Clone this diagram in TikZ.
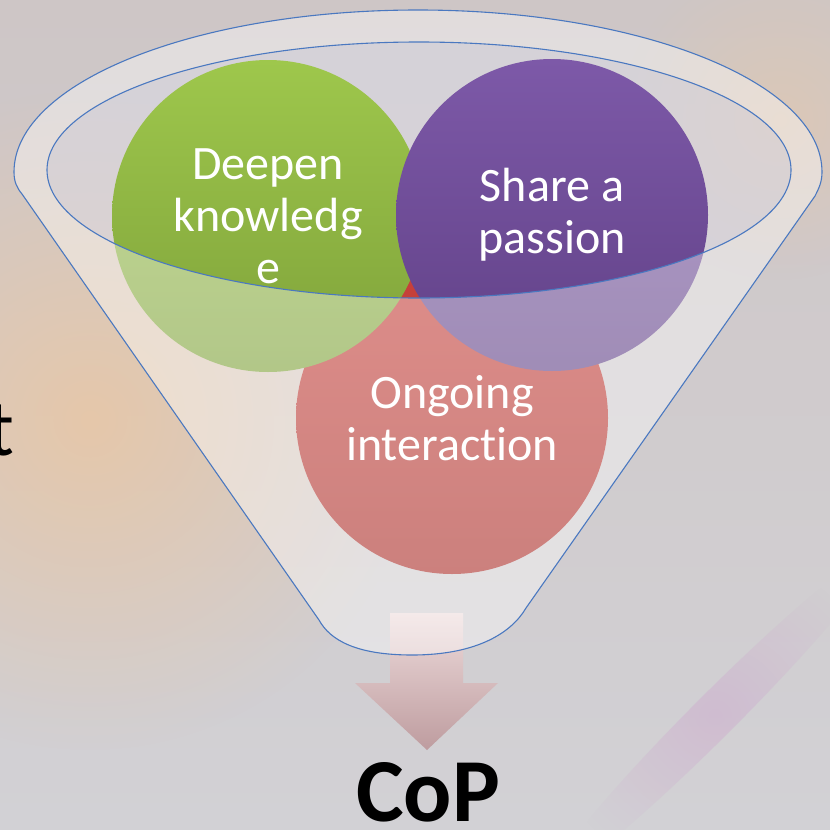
\documentclass[tikz,border=0pt]{standalone}
\usepackage{fontspec}
\setmainfont{Carlito}[Ligatures=NoCommon]
\usetikzlibrary{fadings}
\tikzfading[name=glowfade, inner color=transparent!0, outer color=transparent!100]
\definecolor{bgtop}{HTML}{CEC6C6}
\definecolor{bgbot}{HTML}{D2D1D5}
\definecolor{warm}{HTML}{E8C7A6}
\definecolor{rimblue}{HTML}{4A78C0}
\definecolor{inside}{HTML}{DCDCE6}
\definecolor{gtop}{HTML}{9EC74C}
\definecolor{gbot}{HTML}{7FA23A}
\definecolor{ptop}{HTML}{7D59A8}
\definecolor{pbot}{HTML}{614187}
\definecolor{rtop}{HTML}{C8423C}
\definecolor{rbot}{HTML}{AA2C27}
\definecolor{atop}{HTML}{EEDCDC}
\definecolor{abot}{HTML}{BE9C9F}
\tikzset{
  bubble/.style={circle, inner sep=0pt, minimum size=312pt, align=center,
    text=white, font=\fontsize{48}{52}\selectfont},
  rimline/.style={draw=rimblue, line width=1.1pt},
}
\begin{document}
\begin{tikzpicture}[x=1pt,y=-1pt]
\useasboundingbox (0,0) rectangle (830,830);
\clip (0,0) rectangle (830,830);
% background
\shade[top color=bgtop, bottom color=bgbot] (0,0) rectangle (830,830);
\fill[warm, path fading=glowfade, opacity=0.9] (90,420) circle (330pt);
\fill[warm, path fading=glowfade, opacity=0.5] (780,120) circle (160pt);
\fill[violet!40, path fading=glowfade, opacity=0.35, rotate around={-45:(715,715)}] (715,715) ellipse [x radius=22pt, y radius=230pt];
% funnel inside
\fill[inside, opacity=0.55] (419,170) ellipse [x radius=372pt, y radius=128pt];
% arrow
\shade[top color=atop, bottom color=abot]
  (390,613) -- (463,613) -- (463,683) -- (498,683) -- (427,750) -- (355,683) -- (390,683) -- cycle;
% circles
\node[bubble, top color=rtop, bottom color=rbot] (interact) at (452,418) {Ongoing\\interaction};
\node[bubble, top color=gtop, bottom color=gbot] (deepen) at (268,216) {Deepen\\knowledg\\e};
\node[bubble, top color=ptop, bottom color=pbot] (passion) at (552,215) {Share a\\passion};
% funnel body (translucent), hole at the opening
\fill[white, opacity=0.4, even odd rule]
  (14,172) arc[start angle=180, end angle=0, x radius=404pt, y radius=162pt]
  .. controls (822,182) and (819,188) .. (815,196)
  -- (526,608) .. controls (512,632) and (478,655) .. (412,655)
  .. controls (356,655) and (330,640) .. (319,620)
  -- (22,194) .. controls (17,188) and (14,182) .. (14,172) -- cycle
  (419,170) ellipse [x radius=372pt, y radius=128pt];
% outlines
\draw[rimline]
  (14,172) arc[start angle=180, end angle=0, x radius=404pt, y radius=162pt]
  .. controls (822,182) and (819,188) .. (815,196)
  -- (526,608) .. controls (512,632) and (478,655) .. (412,655)
  .. controls (356,655) and (330,640) .. (319,620)
  -- (22,194) .. controls (17,188) and (14,182) .. (14,172) -- cycle;
\draw[rimline] (419,170) ellipse [x radius=372pt, y radius=128pt];
% texts
\node[anchor=base, font=\bfseries\fontsize{90}{90}\selectfont, inner sep=0pt] (cop) at (428,821) {CoP};
\node[anchor=base east, font=\fontsize{80}{80}\selectfont, inner sep=0pt] (tletter) at (14,455) {t};
\end{tikzpicture}
\end{document}
